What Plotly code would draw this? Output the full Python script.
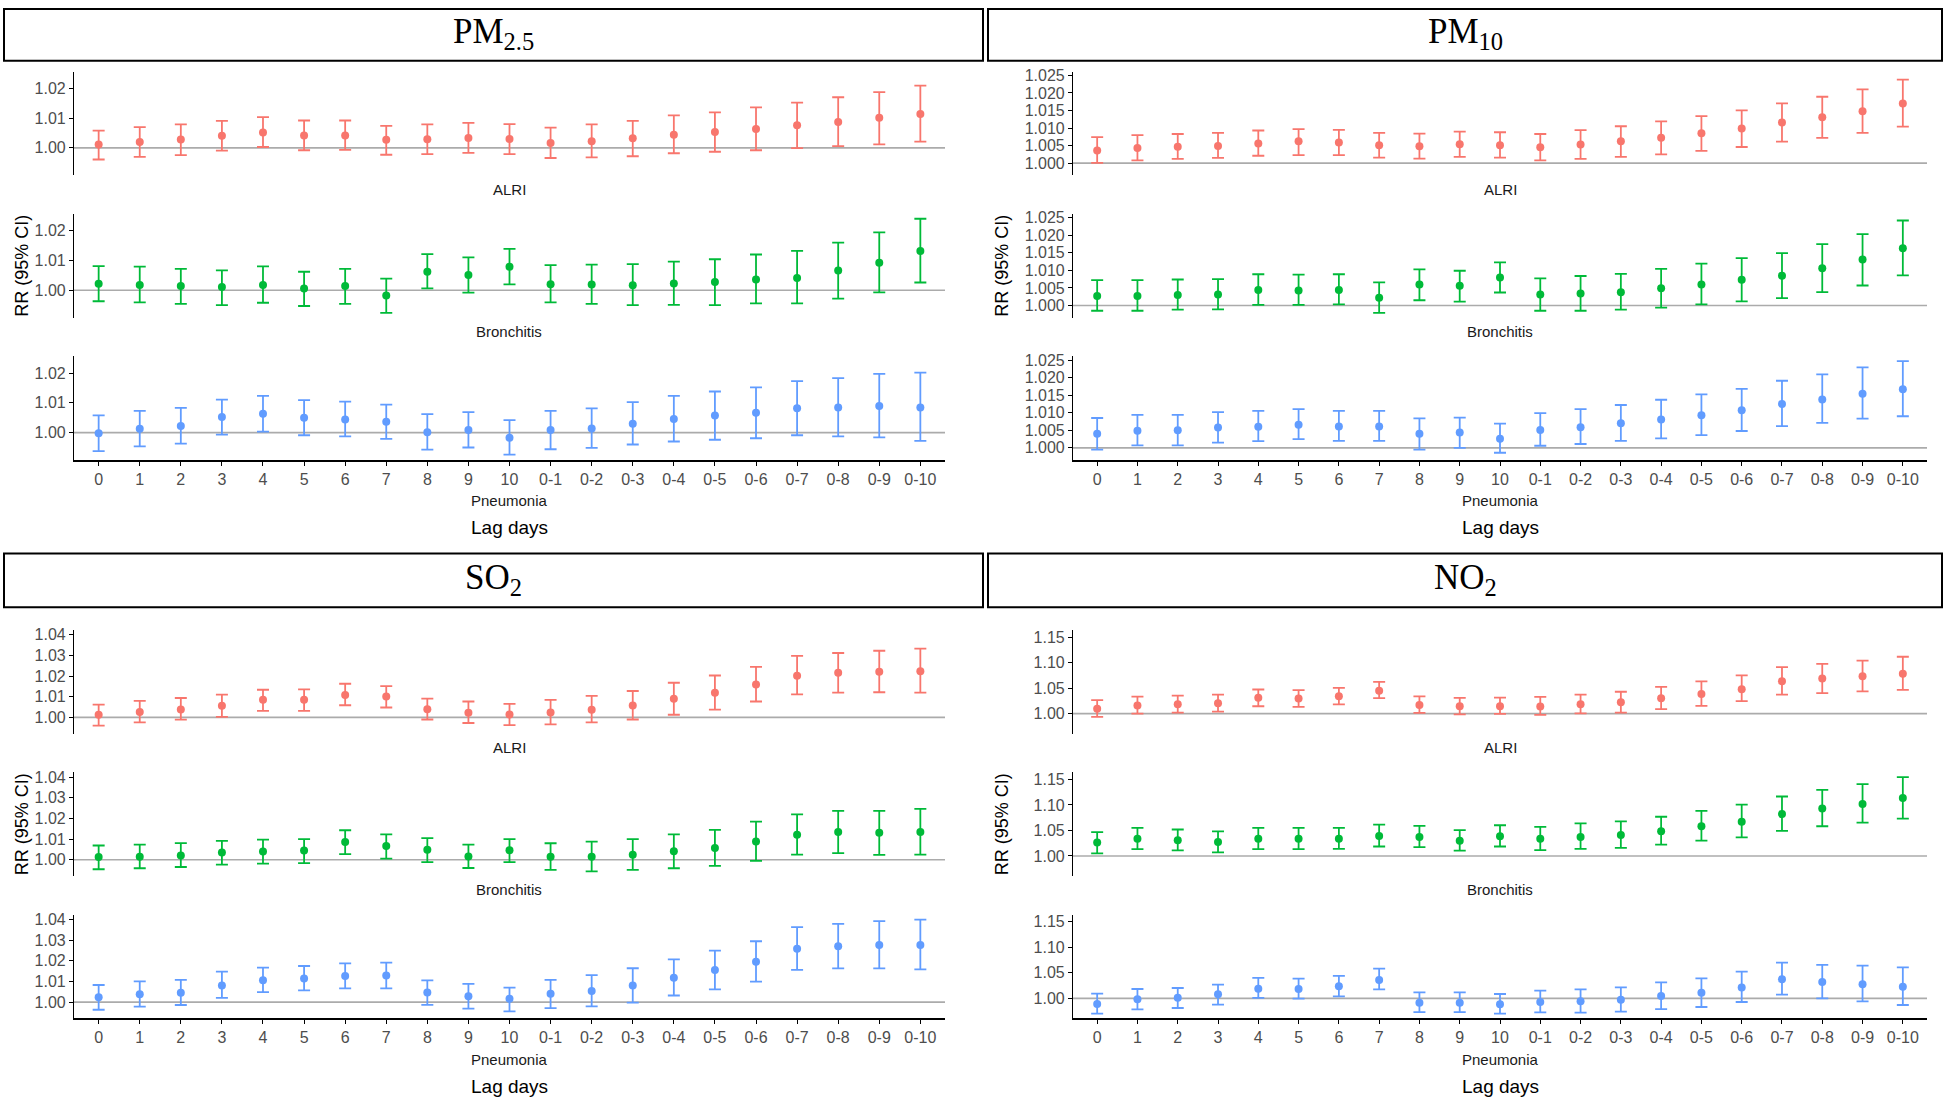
import plotly.graph_objects as go

lags = ["0", "1", "2", "3", "4", "5", "6", "7", "8", "9", "10",
        "0-1", "0-2", "0-3", "0-4", "0-5", "0-6", "0-7", "0-8", "0-9", "0-10"]

# PM2.5
pm25_alri_rr = [1.0011, 1.0020, 1.0028, 1.0041, 1.0052, 1.0042, 1.0042, 1.0027, 1.0029, 1.0033, 1.0030,
                1.0016, 1.0022, 1.0032, 1.0044, 1.0053, 1.0063, 1.0076, 1.0087, 1.0101, 1.0114]
pm25_alri_lo = [0.9961, 0.9970, 0.9976, 0.9991, 1.0003, 0.9992, 0.9993, 0.9977, 0.9979, 0.9983, 0.9979,
                0.9966, 0.9968, 0.9972, 0.9982, 0.9987, 0.9992, 0.9999, 1.0006, 1.0012, 1.0021]
pm25_alri_hi = [1.0058, 1.0070, 1.0079, 1.0091, 1.0103, 1.0092, 1.0092, 1.0074, 1.0079, 1.0084, 1.0080,
                1.0068, 1.0079, 1.0091, 1.0109, 1.0119, 1.0136, 1.0152, 1.0170, 1.0187, 1.0209]
pm25_bron_rr = [1.0022, 1.0018, 1.0014, 1.0011, 1.0018, 1.0006, 1.0014, 0.9982, 1.0062, 1.0051, 1.0079,
                1.0020, 1.0019, 1.0017, 1.0023, 1.0028, 1.0036, 1.0041, 1.0066, 1.0092, 1.0132]
pm25_bron_lo = [0.9963, 0.9959, 0.9954, 0.9950, 0.9958, 0.9947, 0.9954, 0.9924, 1.0006, 0.9992, 1.0020,
                0.9959, 0.9954, 0.9950, 0.9951, 0.9950, 0.9956, 0.9956, 0.9972, 0.9993, 1.0026]
pm25_bron_hi = [1.0081, 1.0079, 1.0072, 1.0067, 1.0080, 1.0062, 1.0072, 1.0039, 1.0121, 1.0110, 1.0139,
                1.0084, 1.0086, 1.0088, 1.0096, 1.0104, 1.0120, 1.0132, 1.0160, 1.0194, 1.0240]
pm25_pneu_rr = [0.9998, 1.0013, 1.0022, 1.0052, 1.0063, 1.0050, 1.0044, 1.0036, 1.0001, 1.0009, 0.9983,
                1.0009, 1.0014, 1.0030, 1.0046, 1.0057, 1.0067, 1.0082, 1.0084, 1.0089, 1.0084]
pm25_pneu_lo = [0.9938, 0.9954, 0.9963, 0.9993, 1.0003, 0.9991, 0.9987, 0.9979, 0.9943, 0.9950, 0.9926,
                0.9944, 0.9949, 0.9960, 0.9970, 0.9976, 0.9981, 0.9991, 0.9987, 0.9984, 0.9972]
pm25_pneu_hi = [1.0058, 1.0073, 1.0083, 1.0111, 1.0123, 1.0109, 1.0104, 1.0094, 1.0062, 1.0069, 1.0042,
                1.0073, 1.0081, 1.0102, 1.0123, 1.0138, 1.0152, 1.0173, 1.0183, 1.0197, 1.0201]

# PM10
pm10_alri_rr = [1.0036, 1.0043, 1.0047, 1.0049, 1.0056, 1.0062, 1.0059, 1.0051, 1.0048, 1.0054, 1.0051,
                1.0045, 1.0053, 1.0062, 1.0072, 1.0085, 1.0099, 1.0116, 1.0131, 1.0148, 1.0170]
pm10_alri_lo = [1.0001, 1.0008, 1.0012, 1.0015, 1.0021, 1.0023, 1.0023, 1.0016, 1.0013, 1.0018, 1.0016,
                1.0008, 1.0012, 1.0018, 1.0025, 1.0035, 1.0046, 1.0061, 1.0072, 1.0086, 1.0104]
pm10_alri_hi = [1.0074, 1.0080, 1.0083, 1.0086, 1.0093, 1.0097, 1.0095, 1.0086, 1.0084, 1.0090, 1.0088,
                1.0083, 1.0094, 1.0105, 1.0119, 1.0134, 1.0150, 1.0170, 1.0189, 1.0210, 1.0238]
pm10_bron_rr = [1.0027, 1.0027, 1.0030, 1.0031, 1.0044, 1.0043, 1.0044, 1.0022, 1.0060, 1.0056, 1.0080,
                1.0031, 1.0034, 1.0038, 1.0049, 1.0060, 1.0073, 1.0085, 1.0106, 1.0131, 1.0163]
pm10_bron_lo = [0.9985, 0.9985, 0.9988, 0.9989, 1.0002, 1.0002, 1.0003, 0.9979, 1.0015, 1.0011, 1.0037,
                0.9985, 0.9985, 0.9988, 0.9994, 1.0003, 1.0012, 1.0021, 1.0038, 1.0057, 1.0086]
pm10_bron_hi = [1.0072, 1.0072, 1.0074, 1.0075, 1.0089, 1.0088, 1.0089, 1.0066, 1.0103, 1.0099, 1.0123,
                1.0077, 1.0084, 1.0090, 1.0104, 1.0119, 1.0135, 1.0149, 1.0175, 1.0203, 1.0242]
pm10_pneu_rr = [1.0040, 1.0049, 1.0050, 1.0058, 1.0060, 1.0066, 1.0061, 1.0061, 1.0040, 1.0044, 1.0026,
                1.0051, 1.0059, 1.0070, 1.0081, 1.0093, 1.0107, 1.0125, 1.0138, 1.0154, 1.0167]
pm10_pneu_lo = [0.9995, 1.0007, 1.0007, 1.0015, 1.0019, 1.0025, 1.0020, 1.0020, 0.9995, 1.0000, 0.9986,
                1.0006, 1.0011, 1.0020, 1.0027, 1.0036, 1.0048, 1.0062, 1.0071, 1.0083, 1.0090]
pm10_pneu_hi = [1.0085, 1.0094, 1.0094, 1.0102, 1.0105, 1.0110, 1.0105, 1.0105, 1.0084, 1.0086, 1.0069,
                1.0099, 1.0110, 1.0122, 1.0137, 1.0152, 1.0168, 1.0191, 1.0209, 1.0229, 1.0247]

# SO2
so2_alri_rr = [1.0013, 1.0026, 1.0038, 1.0056, 1.0085, 1.0085, 1.0109, 1.0101, 1.0040, 1.0022, 1.0014,
               1.0024, 1.0037, 1.0058, 1.0091, 1.0120, 1.0160, 1.0202, 1.0216, 1.0221, 1.0224]
so2_alri_lo = [0.9960, 0.9976, 0.9989, 1.0003, 1.0032, 1.0032, 1.0059, 1.0048, 0.9990, 0.9973, 0.9963,
               0.9966, 0.9976, 0.9990, 1.0013, 1.0038, 1.0077, 1.0112, 1.0120, 1.0122, 1.0120]
so2_alri_hi = [1.0062, 1.0080, 1.0094, 1.0110, 1.0134, 1.0136, 1.0163, 1.0152, 1.0091, 1.0077, 1.0066,
               1.0085, 1.0104, 1.0128, 1.0168, 1.0203, 1.0245, 1.0298, 1.0312, 1.0323, 1.0333]
so2_bron_rr = [1.0013, 1.0014, 1.0021, 1.0035, 1.0040, 1.0045, 1.0086, 1.0067, 1.0048, 1.0016, 1.0046,
               1.0014, 1.0014, 1.0024, 1.0041, 1.0057, 1.0089, 1.0121, 1.0134, 1.0131, 1.0135]
so2_bron_lo = [0.9954, 0.9959, 0.9965, 0.9976, 0.9981, 0.9984, 1.0027, 1.0006, 0.9989, 0.9960, 0.9989,
               0.9951, 0.9944, 0.9951, 0.9959, 0.9970, 0.9995, 1.0025, 1.0032, 1.0024, 1.0025]
so2_bron_hi = [1.0069, 1.0073, 1.0081, 1.0092, 1.0098, 1.0100, 1.0143, 1.0123, 1.0105, 1.0073, 1.0100,
               1.0080, 1.0088, 1.0100, 1.0123, 1.0145, 1.0185, 1.0220, 1.0237, 1.0237, 1.0247]
so2_pneu_rr = [1.0024, 1.0038, 1.0045, 1.0081, 1.0106, 1.0115, 1.0127, 1.0129, 1.0046, 1.0029, 1.0016,
               1.0040, 1.0054, 1.0080, 1.0118, 1.0155, 1.0195, 1.0258, 1.0271, 1.0277, 1.0277]
so2_pneu_lo = [0.9963, 0.9978, 0.9986, 1.0021, 1.0048, 1.0057, 1.0067, 1.0067, 0.9987, 0.9968, 0.9955,
               0.9971, 0.9979, 0.9998, 1.0032, 1.0062, 1.0099, 1.0156, 1.0163, 1.0163, 1.0159]
so2_pneu_hi = [1.0083, 1.0100, 1.0108, 1.0148, 1.0167, 1.0175, 1.0188, 1.0191, 1.0105, 1.0088, 1.0070,
               1.0108, 1.0131, 1.0164, 1.0207, 1.0249, 1.0295, 1.0363, 1.0379, 1.0392, 1.0400]

# NO2
no2_alri_rr = [1.0095, 1.0158, 1.0183, 1.0202, 1.0309, 1.0296, 1.0340, 1.0448, 1.0170, 1.0145, 1.0145,
               1.0139, 1.0183, 1.0221, 1.0303, 1.0385, 1.0479, 1.0637, 1.0687, 1.0731, 1.0782]
no2_alri_lo = [0.9937, 1.0000, 1.0019, 1.0038, 1.0145, 1.0132, 1.0183, 1.0303, 1.0013, 0.9987, 0.9994,
               0.9975, 1.0006, 1.0019, 1.0088, 1.0151, 1.0246, 1.0372, 1.0404, 1.0435, 1.0467]
no2_alri_hi = [1.0265, 1.0334, 1.0353, 1.0372, 1.0473, 1.0460, 1.0504, 1.0624, 1.0340, 1.0309, 1.0315,
               1.0328, 1.0372, 1.0429, 1.0523, 1.0631, 1.0750, 1.0914, 1.0977, 1.1040, 1.1116]
no2_bron_rr = [1.0263, 1.0340, 1.0308, 1.0276, 1.0340, 1.0340, 1.0340, 1.0391, 1.0372, 1.0301, 1.0385,
               1.0340, 1.0372, 1.0410, 1.0487, 1.0583, 1.0673, 1.0821, 1.0929, 1.1019, 1.1135]
no2_bron_lo = [1.0051, 1.0135, 1.0109, 1.0071, 1.0135, 1.0135, 1.0141, 1.0186, 1.0173, 1.0103, 1.0186,
               1.0115, 1.0141, 1.0160, 1.0224, 1.0301, 1.0365, 1.0494, 1.0583, 1.0654, 1.0731]
no2_bron_hi = [1.0468, 1.0551, 1.0519, 1.0481, 1.0551, 1.0551, 1.0551, 1.0615, 1.0590, 1.0506, 1.0603,
               1.0571, 1.0641, 1.0679, 1.0769, 1.0885, 1.1006, 1.1167, 1.1295, 1.1410, 1.1545]
no2_pneu_rr = [0.9889, 0.9980, 1.0013, 1.0079, 1.0190, 1.0183, 1.0236, 1.0360, 0.9915, 0.9915, 0.9882,
               0.9928, 0.9941, 0.9974, 1.0046, 1.0111, 1.0210, 1.0373, 1.0321, 1.0275, 1.0229]
no2_pneu_lo = [0.9699, 0.9784, 0.9810, 0.9876, 1.0007, 0.9993, 1.0039, 1.0177, 0.9731, 0.9731, 0.9699,
               0.9725, 0.9718, 0.9738, 0.9790, 0.9830, 0.9928, 1.0072, 1.0000, 0.9941, 0.9869]
no2_pneu_hi = [1.0092, 1.0183, 1.0203, 1.0269, 1.0400, 1.0386, 1.0439, 1.0583, 1.0118, 1.0118, 1.0085,
               1.0151, 1.0177, 1.0216, 1.0314, 1.0393, 1.0524, 1.0701, 1.0655, 1.0642, 1.0609]

pm25_ticks = [1.00, 1.01, 1.02]
pm10_ticks = [1.000, 1.005, 1.010, 1.015, 1.020, 1.025]
so2_ticks = [1.00, 1.01, 1.02, 1.03, 1.04]
no2_ticks = [1.00, 1.05, 1.10, 1.15]

diseases = ["ALRI", "Bronchitis", "Pneumonia"]
colors = ["#F8766D", "#00BA38", "#619CFF"]

panels = [
    ("PM<sub>2.5</sub>", pm25_ticks, ".2f", [(pm25_alri_rr, pm25_alri_lo, pm25_alri_hi),
                                           (pm25_bron_rr, pm25_bron_lo, pm25_bron_hi),
                                           (pm25_pneu_rr, pm25_pneu_lo, pm25_pneu_hi)]),
    ("PM<sub>10</sub>", pm10_ticks, ".3f", [(pm10_alri_rr, pm10_alri_lo, pm10_alri_hi),
                                          (pm10_bron_rr, pm10_bron_lo, pm10_bron_hi),
                                          (pm10_pneu_rr, pm10_pneu_lo, pm10_pneu_hi)]),
    ("SO<sub>2</sub>", so2_ticks, ".2f", [(so2_alri_rr, so2_alri_lo, so2_alri_hi),
                                        (so2_bron_rr, so2_bron_lo, so2_bron_hi),
                                        (so2_pneu_rr, so2_pneu_lo, so2_pneu_hi)]),
    ("NO<sub>2</sub>", no2_ticks, ".2f", [(no2_alri_rr, no2_alri_lo, no2_alri_hi),
                                        (no2_bron_rr, no2_bron_lo, no2_bron_hi),
                                        (no2_pneu_rr, no2_pneu_lo, no2_pneu_hi)]),
]

W, H = 1944, 1100
col_x = [(74, 945), (1073, 1927)]
col_box = [(4, 983), (988, 1942)]
col_ytitle = [22, 1002]
row_top = [0, 561]
row_box = [(4, 56), (551, 605)]
sub_y = [(67, 171), (210, 314), (353, 457)]


def px(x):
    return x / W


def py(y):
    return 1 - y / H


def note(text, x, y, size, family="Liberation Sans", color="black", angle=0):
    return dict(text=text, x=px(x), y=py(y), xref="paper", yref="paper",
                xanchor="center", yanchor="middle", showarrow=False, textangle=angle,
                font=dict(family=family, size=size, color=color))


fig = go.Figure()
layout = {}
shapes = []
annotations = []
tick_font = dict(family="Liberation Sans", size=16, color="#4D4D4D")

n = 0
for p, (title, ticks, fmt, series) in enumerate(panels):
    col, row = p % 2, p // 2
    off = row_top[row]
    x0, x1 = col_x[col]
    all_lo = min(min(s[1]) for s in series)
    all_hi = max(max(s[2]) for s in series)
    pad = (all_hi - all_lo) * 0.05
    yrange = [all_lo - pad, all_hi + pad]

    for d, (rr, lo, hi) in enumerate(series):
        n += 1
        sfx = "" if n == 1 else str(n)
        top, bot = sub_y[d][0] + off, sub_y[d][1] + off
        xa, ya = f"x{sfx}", f"y{sfx}"
        fig.add_trace(go.Scatter(
            x=lags, y=rr, xaxis=xa, yaxis=ya, mode="markers",
            marker=dict(color=colors[d], size=8),
            error_y=dict(type="data", symmetric=False,
                         array=[h - r for h, r in zip(hi, rr)],
                         arrayminus=[r - l for r, l in zip(rr, lo)],
                         color=colors[d], thickness=1.8, width=6),
            showlegend=False, cliponaxis=False,
        ))
        bottom = d == 2
        layout[f"xaxis{sfx}"] = dict(
            domain=[px(x0), px(x1)], anchor=ya, type="category",
            categoryorder="array", categoryarray=lags, range=[-0.6, 20.6],
            showline=bottom, linecolor="black", linewidth=1.5,
            ticks="outside" if bottom else "", ticklen=4, tickcolor="black",
            showticklabels=bottom, tickfont=tick_font, showgrid=False, zeroline=False,
        )
        layout[f"yaxis{sfx}"] = dict(
            domain=[py(bot), py(top)], anchor=xa, range=yrange,
            tickvals=ticks, tickformat=fmt, showline=True, linecolor="black", linewidth=1.2,
            ticks="outside", ticklen=4, tickcolor="black", tickfont=tick_font,
            showgrid=False, zeroline=False,
        )
        shapes.append(dict(type="line", xref=f"{xa} domain", yref=ya, x0=0, x1=1, y0=1, y1=1,
                           line=dict(color="#ABABAB", width=1.6), layer="below"))
        label_y = bot + 14 if not bottom else bot + 41
        annotations.append(note(diseases[d], (x0 + x1) / 2, label_y, 15, color="#1A1A1A"))

    bx0, bx1 = col_box[col]
    by0, by1 = row_box[row]
    shapes.append(dict(type="rect", xref="paper", yref="paper",
                       x0=px(bx0), x1=px(bx1), y0=py(by0), y1=py(by1),
                       line=dict(color="black", width=2)))
    annotations.append(note(title, (bx0 + bx1) / 2, (by0 + by1) / 2 - 1, 35, family="Liberation Serif"))
    annotations.append(note("Lag days", (x0 + x1) / 2, off + 525, 19))
    annotations.append(note("RR (95% CI)", col_ytitle[col], off + 262, 18, angle=-90))

fig.update_layout(
    width=W, height=H, margin=dict(l=0, r=0, t=0, b=0),
    paper_bgcolor="white", plot_bgcolor="white",
    shapes=shapes, annotations=annotations, **layout,
)

fig.write_html("out.html", config={"displayModeBar": False},
               post_script="document.body.style.margin='0';")
